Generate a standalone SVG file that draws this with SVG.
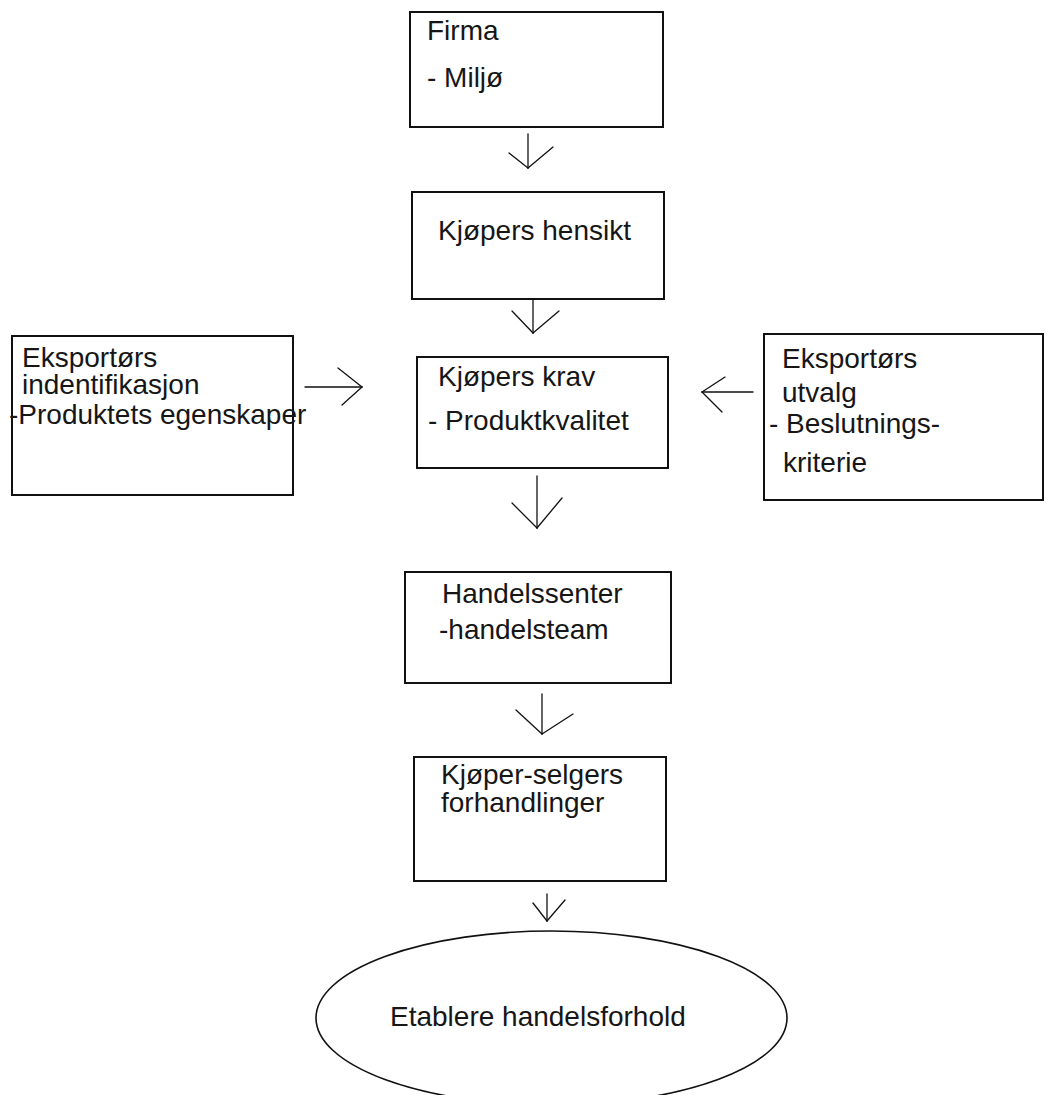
<svg xmlns="http://www.w3.org/2000/svg" width="1045" height="1095" viewBox="0 0 1045 1095">
<style>
.box{fill:#fff;stroke:#111;stroke-width:2}
.t{font-family:"Liberation Sans",Arial,Helvetica,sans-serif;font-size:28px;fill:#161616}
.c line{stroke:#111;stroke-width:1.3;stroke-linecap:round}
</style>
<rect width="1045" height="1095" fill="#fff"/>
<g class="c" id="connectors">
<line x1="528" y1="134" x2="528" y2="168"/><line x1="509" y1="153" x2="528" y2="168"/><line x1="553" y1="147" x2="528" y2="168"/>
<line x1="533" y1="300" x2="533" y2="333"/><line x1="512" y1="311" x2="533" y2="333"/><line x1="559" y1="311" x2="533" y2="333"/>
<line x1="537" y1="476" x2="537" y2="528"/><line x1="512" y1="503" x2="537" y2="528"/><line x1="562" y1="498" x2="537" y2="528"/>
<line x1="305" y1="387" x2="362" y2="387"/><line x1="338" y1="368" x2="362" y2="387"/><line x1="342" y1="405" x2="362" y2="387"/>
<line x1="753" y1="392" x2="702" y2="392"/><line x1="725" y1="377" x2="702" y2="392"/><line x1="722" y1="412" x2="702" y2="392"/>
<line x1="542" y1="694" x2="542" y2="734"/><line x1="516" y1="710" x2="542" y2="734"/><line x1="573" y1="714" x2="542" y2="734"/>
<line x1="547" y1="894" x2="547" y2="921"/><line x1="533" y1="903" x2="547" y2="921"/><line x1="565" y1="900" x2="547" y2="921"/>
</g>
<g id="firma"><rect class="box" x="410" y="12" width="253" height="115"/><text class="t" x="427" y="40">Firma</text><text class="t" x="427" y="87">- Miljø</text></g>
<g id="hensikt"><rect class="box" x="412" y="192" width="252" height="107"/><text class="t" x="438" y="240">Kjøpers hensikt</text></g>
<g id="krav"><rect class="box" x="417" y="357" width="251" height="111"/><text class="t" x="438" y="386">Kjøpers krav</text><text class="t" x="428" y="430">- Produktkvalitet</text></g>
<g id="identifikasjon"><rect class="box" x="12" y="336" width="281" height="159"/><text class="t" x="22" y="367">Eksportørs</text><text class="t" x="22" y="394">indentifikasjon</text><text class="t" x="9" y="424">-Produktets egenskaper</text></g>
<g id="utvalg"><rect class="box" x="764" y="334" width="279" height="166"/><text class="t" x="782" y="368">Eksportørs</text><text class="t" x="782" y="402">utvalg</text><text class="t" x="769" y="433">- Beslutnings-</text><text class="t" x="783" y="472">kriterie</text></g>
<g id="handelssenter"><rect class="box" x="405" y="572" width="266" height="111"/><text class="t" x="442" y="603">Handelssenter</text><text class="t" x="439" y="639">-handelsteam</text></g>
<g id="forhandlinger"><rect class="box" x="414" y="757" width="252" height="124"/><text class="t" x="441" y="784">Kjøper-selgers</text><text class="t" x="441" y="812">forhandlinger</text></g>
<g id="etablere"><ellipse class="box" cx="551.5" cy="1018" rx="235.5" ry="87" style="stroke-width:1.6"/><text class="t" x="390" y="1026">Etablere handelsforhold</text></g>
</svg>
